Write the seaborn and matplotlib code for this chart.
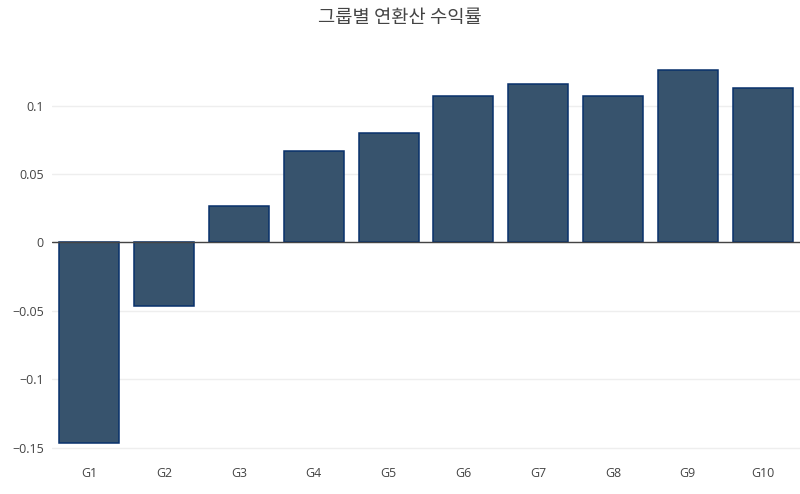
import matplotlib
matplotlib.use("Agg")
import matplotlib.pyplot as plt
import seaborn as sns
import pandas as pd
from matplotlib.ticker import FixedLocator, FuncFormatter

groups = ["G1", "G2", "G3", "G4", "G5", "G6", "G7", "G8", "G9", "G10"]
returns = [-0.147, -0.0463, 0.0263, 0.0667, 0.0799, 0.1072, 0.1157, 0.1067, 0.1257, 0.1126]
yticks = [-0.15, -0.1, -0.05, 0, 0.05, 0.1]
title = "그룹별 연환산 수익률"

df = pd.DataFrame({"group": groups, "ret": returns})

sns.set_theme(style="white")
plt.rcParams['font.family'] = ['Open Sans', 'Noto Sans CJK KR', 'DejaVu Sans']

fig = plt.figure(figsize=(8, 4.94), dpi=100)
ax = fig.add_axes([52/800, 44/494, 748/800, 390/494])

sns.barplot(data=df, x="group", y="ret", ax=ax, color="#37536d", saturation=1,
            width=0.8, edgecolor="#08306b", linewidth=1.1, zorder=3)

ax.set_ylim(-0.1518, 0.1333)
ax.set_xlim(-0.5, len(groups) - 0.5)
ax.yaxis.set_major_locator(FixedLocator(yticks))

def fmt(v, pos):
    if abs(v) < 1e-12:
        return "0"
    s = ("%g" % abs(v))
    return ("\u2212" + s) if v < 0 else s

ax.yaxis.set_major_formatter(FuncFormatter(fmt))
ax.grid(axis="y", color="#eeeeee", linewidth=1, zorder=0)
ax.axhline(0, color="#444444", linewidth=1, zorder=4)
for s in ax.spines.values():
    s.set_visible(False)
ax.tick_params(axis="both", length=0, labelsize=9, colors="#444444")
ax.tick_params(axis="x", pad=12)
ax.tick_params(axis="y", pad=6)
ax.set_xlabel("")
ax.set_ylabel("")

fig.text(0.5, 1 - 18/494, title, ha="center", va="center", fontsize=13.5,
         color="#444444", family=['Noto Sans CJK KR', 'DejaVu Sans'])

fig.savefig("out.png", dpi=100)
